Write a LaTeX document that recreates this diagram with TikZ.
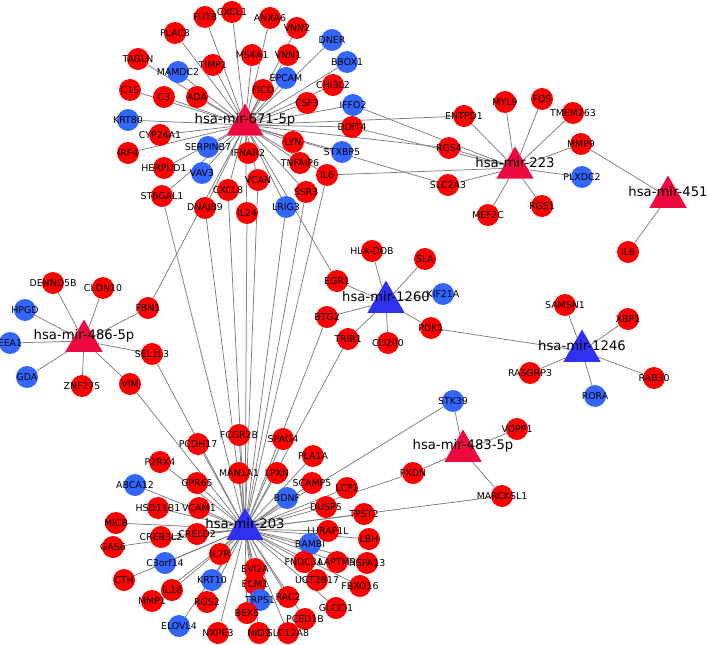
\documentclass[tikz,border=0pt]{standalone}
\usepackage{fontspec}
\setmainfont{DejaVu Sans}
\usepackage{tikz}
\usetikzlibrary{shapes.geometric, backgrounds}

\definecolor{upred}{RGB}{255,0,0}
\definecolor{downblue}{RGB}{51,102,255}
\definecolor{mirred}{RGB}{238,8,64}
\definecolor{mirblue}{RGB}{48,48,240}
\definecolor{linkgray}{RGB}{125,125,125}

\begin{document}
\begin{tikzpicture}[x=1pt, y=-1pt,
    genetext/.style={anchor=center, font=\fontsize{9.4}{11}\selectfont, text=black, inner sep=0pt},
    mirtext/.style={anchor=center, font=\fontsize{13.2}{15}\selectfont, text=black, inner sep=0pt, yshift=5pt},
    red gene/.style={circle, fill=upred, minimum size=22pt, inner sep=0pt, label={[genetext]center:#1}},
    blue gene/.style={circle, fill=downblue, minimum size=22pt, inner sep=0pt, label={[genetext]center:#1}},
    red mir/.style={regular polygon, regular polygon sides=3, fill=mirred, minimum size=43pt, inner sep=0pt, label={[mirtext]center:#1}},
    blue mir/.style={regular polygon, regular polygon sides=3, fill=mirblue, minimum size=43pt, inner sep=0pt, label={[mirtext]center:#1}}]
    \useasboundingbox (0,0) rectangle (708,644);

    % targets of hsa-mir-671-5p
    \node[red gene=PLAC8] (PLAC8) at (175,33) {};
    \node[red gene=FUT8] (FUT8) at (205,17) {};
    \node[red gene=CXCL1] (CXCL1) at (232,12) {};
    \node[red gene=ANXA6] (ANXA6) at (270,18) {};
    \node[red gene=VNN2] (VNN2) at (297,28) {};
    \node[red gene=MS4A1] (MS4A1) at (252,55) {};
    \node[red gene=TIMP1] (TIMP1) at (213,65) {};
    \node[red gene=VNN1] (VNN1) at (288,55) {};
    \node[blue gene=DNER] (DNER) at (332,40) {};
    \node[blue gene=BBOX1] (BBOX1) at (347,62) {};
    \node[blue gene=EPCAM] (EPCAM) at (286,78) {};
    \node[red gene=CHI3L2] (CHI3L2) at (333,85) {};
    \node[red gene=FICD] (FICD) at (263,90) {};
    \node[red gene=CSF3] (CSF3) at (307,103) {};
    \node[blue gene=IFFO2] (IFFO2) at (353,105) {};
    \node[red gene=DDIT4] (DDIT4) at (352,127) {};
    \node[red gene=TAGLN] (TAGLN) at (138,59) {};
    \node[blue gene=MAMDC2] (MAMDC2) at (178,72) {};
    \node[red gene=C1S] (C1S) at (130,90) {};
    \node[red gene=C3] (C3) at (164,97) {};
    \node[red gene=ADA] (ADA) at (197,97) {};
    \node[blue gene=KRT80] (KRT80) at (128,120) {};
    \node[red gene=CYP24A1] (CYP24A1) at (160,135) {};
    \node[red gene=IRF4] (IRF4) at (128,153) {};
    \node[red gene=HERPUD1] (HERPUD1) at (164,168) {};
    \node[blue gene=SERPINB7] (SERPINB7) at (208,147) {};
    \node[blue gene=VAV3] (VAV3) at (202,173) {};
    \node[red gene=ST6GAL1] (ST6GAL1) at (162,196) {};
    \node[red gene=DNAJB9] (DNAJB9) at (205,208) {};
    \node[red gene=IFNAR2] (IFNAR2) at (248,153) {};
    \node[red gene=CXCL8] (CXCL8) at (228,190) {};
    \node[red gene=VCAN] (VCAN) at (258,180) {};
    \node[red gene=IL24] (IL24) at (247,213) {};
    \node[red gene=LYN] (LYN) at (293,142) {};
    \node[red gene=TNFAIP6] (TNFAIP6) at (300,163) {};
    \node[red gene=SSR3] (SSR3) at (306,192) {};
    \node[blue gene=LRIG3] (LRIG3) at (286,207) {};
    \node[blue gene=STXBP5] (STXBP5) at (342,152) {};
    \node[red gene=IL6] (IL6a) at (327,175) {};

    % targets of hsa-mir-223 and hsa-mir-451
    \node[red gene=ENTPD1] (ENTPD1) at (464,116) {};
    \node[red gene=MYL9] (MYL9) at (505,102) {};
    \node[red gene=FOS] (FOS) at (542,99) {};
    \node[red gene=TMEM263] (TMEM263) at (573,113) {};
    \node[red gene=RGS4] (RGS4) at (449,148) {};
    \node[red gene=MMP9] (MMP9) at (581,144) {};
    \node[blue gene=PLXDC2] (PLXDC2) at (582,177) {};
    \node[red gene=SLC2A3] (SLC2A3) at (448,185) {};
    \node[red gene=MEF2C] (MEF2C) at (488,215) {};
    \node[red gene=RGS1] (RGS1) at (542,206) {};
    \node[red gene=IL6] (IL6b) at (628,252) {};

    % targets of hsa-mir-1260 and hsa-mir-1246
    \node[red gene=HLA-DOB] (HLA-DOB) at (372,251) {};
    \node[red gene=SLA] (SLA) at (425,259) {};
    \node[red gene=EGR1] (EGR1) at (337,281) {};
    \node[blue gene=KIF21A] (KIF21A) at (443,294) {};
    \node[red gene=BTG2] (BTG2) at (327,317) {};
    \node[red gene=PDK1] (PDK1) at (431,328) {};
    \node[red gene=TRIB1] (TRIB1) at (348,339) {};
    \node[red gene=CD200] (CD200) at (388,343) {};
    \node[red gene=SAMSN1] (SAMSN1) at (565,305) {};
    \node[red gene=XBP1] (XBP1) at (628,319) {};
    \node[red gene=RASGRP3] (RASGRP3) at (530,373) {};
    \node[red gene=RAB30] (RAB30) at (654,378) {};
    \node[blue gene=RORA] (RORA) at (595,396) {};

    % targets of hsa-mir-486-5p
    \node[red gene=DENND5B] (DENND5B) at (53,283) {};
    \node[red gene=CLDN10] (CLDN10) at (103,288) {};
    \node[blue gene=HPGD] (HPGD) at (25,310) {};
    \node[red gene=FBN1] (FBN1) at (148,308) {};
    \node[blue gene=EEA1] (EEA1) at (10,343) {};
    \node[red gene=SEL1L3] (SEL1L3) at (152,354) {};
    \node[blue gene=GDA] (GDA) at (27,377) {};
    \node[red gene=ZNF275] (ZNF275) at (82,386) {};
    \node[red gene=VIM] (VIM) at (130,384) {};

    % targets of hsa-mir-483-5p
    \node[blue gene=STK39] (STK39) at (453,401) {};
    \node[red gene=VOPP1] (VOPP1) at (517,429) {};
    \node[red gene=PXDN] (PXDN) at (413,473) {};
    \node[red gene=MARCKSL1] (MARCKSL1) at (502,496) {};

    % targets of hsa-mir-203
    \node[red gene=FCGR2B] (FCGR2B) at (239,435) {};
    \node[red gene=PCDH17] (PCDH17) at (198,444) {};
    \node[red gene=SPAG4] (SPAG4) at (283,439) {};
    \node[red gene=P2RX4] (P2RX4) at (160,462) {};
    \node[red gene=MAN1A1] (MAN1A1) at (239,473) {};
    \node[red gene=GPR65] (GPR65) at (197,483) {};
    \node[blue gene=ABCA12] (ABCA12) at (135,485) {};
    \node[red gene=HSD11B1] (HSD11B1) at (158,508) {};
    \node[red gene=VCAM1] (VCAM1) at (199,508) {};
    \node[red gene=MICB] (MICB) at (116,523) {};
    \node[red gene=PLA1A] (PLA1A) at (313,456) {};
    \node[red gene=LPXN] (LPXN) at (277,473) {};
    \node[red gene=SCAMP5] (SCAMP5) at (312,483) {};
    \node[red gene=LCP1] (LCP1) at (347,488) {};
    \node[blue gene=BDNF] (BDNF) at (287,498) {};
    \node[red gene=DUSP5] (DUSP5) at (326,507) {};
    \node[red gene=TPST2] (TPST2) at (364,514) {};
    \node[red gene=CREB3L2] (CREB3L2) at (161,537) {};
    \node[red gene=CRELD2] (CRELD2) at (197,534) {};
    \node[red gene=GAS6] (GAS6) at (113,547) {};
    \node[red gene=IL7R] (IL7R) at (220,554) {};
    \node[blue gene=C3orf14] (C3orf14) at (165,563) {};
    \node[red gene=EVI2A] (EVI2A) at (255,569) {};
    \node[red gene=CTH] (CTH) at (124,580) {};
    \node[blue gene=KRT10] (KRT10) at (212,580) {};
    \node[red gene=ECM1] (ECM1) at (255,584) {};
    \node[red gene=IL18] (IL18) at (172,590) {};
    \node[red gene=MMP1] (MMP1) at (152,601) {};
    \node[blue gene=TRPS1] (TRPS1) at (260,600) {};
    \node[red gene=RGS2] (RGS2) at (207,602) {};
    \node[red gene=BEX5] (BEX5) at (247,613) {};
    \node[blue gene=ELOVL4] (ELOVL4) at (179,626) {};
    \node[red gene=NXPE3] (NXPE3) at (218,633) {};
    \node[red gene=NID2] (NID2) at (259,633) {};
    \node[red gene=LURAP1L] (LURAP1L) at (328,531) {};
    \node[red gene=LBH] (LBH) at (369,539) {};
    \node[blue gene=BAMBI] (BAMBI) at (310,544) {};
    \node[red gene=FNDC3A] (FNDC3A) at (304,562) {};
    \node[red gene=LAPTM5] (LAPTM5) at (337,562) {};
    \node[red gene=HSPA13] (HSPA13) at (367,563) {};
    \node[red gene=UGT2B17] (UGT2B17) at (317,580) {};
    \node[red gene=FBXO16] (FBXO16) at (360,586) {};
    \node[red gene=RAC2] (RAC2) at (288,597) {};
    \node[red gene=GLCCI1] (GLCCI1) at (336,608) {};
    \node[red gene=PCED1B] (PCED1B) at (305,619) {};
    \node[red gene=SLC12A8] (SLC12A8) at (288,633) {};

    % the miRNAs
    \node[red mir=hsa-mir-671-5p] (m671) at (245,125) {};
    \node[red mir=hsa-mir-223] (m223) at (515,168) {};
    \node[red mir=hsa-mir-451] (m451) at (668,197) {};
    \node[blue mir=hsa-mir-1260] (m1260) at (386,302) {};
    \node[blue mir=hsa-mir-1246] (m1246) at (582,351) {};
    \node[red mir=hsa-mir-486-5p] (m486) at (84,341) {};
    \node[blue mir=hsa-mir-203] (m203) at (245,529) {};
    \node[red mir=hsa-mir-483-5p] (m483) at (463,451) {};

    \begin{pgfonlayer}{background}
    \begin{scope}[draw=linkgray, line width=0.75pt]
    % hsa-mir-671-5p
    \draw (m671) -- (PLAC8);
    \draw (m671) -- (FUT8);
    \draw (m671) -- (CXCL1);
    \draw (m671) -- (ANXA6);
    \draw (m671) -- (VNN2);
    \draw (m671) -- (MS4A1);
    \draw (m671) -- (TIMP1);
    \draw (m671) -- (VNN1);
    \draw (m671) -- (DNER);
    \draw (m671) -- (BBOX1);
    \draw (m671) -- (EPCAM);
    \draw (m671) -- (CHI3L2);
    \draw (m671) -- (FICD);
    \draw (m671) -- (CSF3);
    \draw (m671) -- (IFFO2);
    \draw (m671) -- (DDIT4);
    \draw (m671) -- (TAGLN);
    \draw (m671) -- (MAMDC2);
    \draw (m671) -- (C1S);
    \draw (m671) -- (C3);
    \draw (m671) -- (ADA);
    \draw (m671) -- (KRT80);
    \draw (m671) -- (CYP24A1);
    \draw (m671) -- (IRF4);
    \draw (m671) -- (HERPUD1);
    \draw (m671) -- (SERPINB7);
    \draw (m671) -- (VAV3);
    \draw (m671) -- (ST6GAL1);
    \draw (m671) -- (DNAJB9);
    \draw (m671) -- (IFNAR2);
    \draw (m671) -- (CXCL8);
    \draw (m671) -- (VCAN);
    \draw (m671) -- (IL24);
    \draw (m671) -- (LYN);
    \draw (m671) -- (TNFAIP6);
    \draw (m671) -- (SSR3);
    \draw (m671) -- (LRIG3);
    \draw (m671) -- (STXBP5);
    \draw (m671) -- (IL6a);
    \draw (m671) -- (ENTPD1);
    \draw (m671) -- (RGS4);
    \draw (m671) -- (SLC2A3);
    \draw (m671) -- (FBN1);
    \draw (m671) -- (EGR1);
    % hsa-mir-223 and hsa-mir-451
    \draw (m223) -- (ENTPD1);
    \draw (m223) -- (MYL9);
    \draw (m223) -- (FOS);
    \draw (m223) -- (TMEM263);
    \draw (m223) -- (MMP9);
    \draw (m223) -- (PLXDC2);
    \draw (m223) -- (RGS1);
    \draw (m223) -- (MEF2C);
    \draw (m223) -- (SLC2A3);
    \draw (m223) -- (RGS4);
    \draw (m223) -- (IFFO2);
    \draw (m223) -- (DDIT4);
    \draw (m223) -- (IL6a);
    \draw (m451) -- (MMP9);
    \draw (m451) -- (IL6b);
    % hsa-mir-1260 and hsa-mir-1246
    \draw (m1260) -- (HLA-DOB);
    \draw (m1260) -- (SLA);
    \draw (m1260) -- (EGR1);
    \draw (m1260) -- (KIF21A);
    \draw (m1260) -- (BTG2);
    \draw (m1260) -- (PDK1);
    \draw (m1260) -- (TRIB1);
    \draw (m1260) -- (CD200);
    \draw (m1246) -- (PDK1);
    \draw (m1246) -- (SAMSN1);
    \draw (m1246) -- (XBP1);
    \draw (m1246) -- (RASGRP3);
    \draw (m1246) -- (RAB30);
    \draw (m1246) -- (RORA);
    % hsa-mir-486-5p
    \draw (m486) -- (DENND5B);
    \draw (m486) -- (CLDN10);
    \draw (m486) -- (HPGD);
    \draw (m486) -- (FBN1);
    \draw (m486) -- (EEA1);
    \draw (m486) -- (SEL1L3);
    \draw (m486) -- (GDA);
    \draw (m486) -- (ZNF275);
    \draw (m486) -- (VIM);
    % hsa-mir-483-5p
    \draw (m483) -- (STK39);
    \draw (m483) -- (VOPP1);
    \draw (m483) -- (PXDN);
    \draw (m483) -- (MARCKSL1);
    % hsa-mir-203
    \draw (m203) -- (ST6GAL1);
    \draw (m203) -- (DNAJB9);
    \draw (m203) -- (CXCL8);
    \draw (m203) -- (IL24);
    \draw (m203) -- (VCAN);
    \draw (m203) -- (LRIG3);
    \draw (m203) -- (SSR3);
    \draw (m203) -- (IL6a);
    \draw (m203) -- (BTG2);
    \draw (m203) -- (TRIB1);
    \draw (m203) -- (SEL1L3);
    \draw (m203) -- (VIM);
    \draw (m203) -- (STK39);
    \draw (m203) -- (PXDN);
    \draw (m203) -- (MARCKSL1);
    \draw (m203) -- (FCGR2B);
    \draw (m203) -- (PCDH17);
    \draw (m203) -- (SPAG4);
    \draw (m203) -- (P2RX4);
    \draw (m203) -- (MAN1A1);
    \draw (m203) -- (GPR65);
    \draw (m203) -- (ABCA12);
    \draw (m203) -- (HSD11B1);
    \draw (m203) -- (VCAM1);
    \draw (m203) -- (MICB);
    \draw (m203) -- (PLA1A);
    \draw (m203) -- (LPXN);
    \draw (m203) -- (SCAMP5);
    \draw (m203) -- (LCP1);
    \draw (m203) -- (BDNF);
    \draw (m203) -- (DUSP5);
    \draw (m203) -- (TPST2);
    \draw (m203) -- (CREB3L2);
    \draw (m203) -- (CRELD2);
    \draw (m203) -- (GAS6);
    \draw (m203) -- (IL7R);
    \draw (m203) -- (C3orf14);
    \draw (m203) -- (EVI2A);
    \draw (m203) -- (CTH);
    \draw (m203) -- (KRT10);
    \draw (m203) -- (ECM1);
    \draw (m203) -- (IL18);
    \draw (m203) -- (MMP1);
    \draw (m203) -- (TRPS1);
    \draw (m203) -- (RGS2);
    \draw (m203) -- (BEX5);
    \draw (m203) -- (ELOVL4);
    \draw (m203) -- (NXPE3);
    \draw (m203) -- (NID2);
    \draw (m203) -- (LURAP1L);
    \draw (m203) -- (LBH);
    \draw (m203) -- (BAMBI);
    \draw (m203) -- (FNDC3A);
    \draw (m203) -- (LAPTM5);
    \draw (m203) -- (HSPA13);
    \draw (m203) -- (UGT2B17);
    \draw (m203) -- (FBXO16);
    \draw (m203) -- (RAC2);
    \draw (m203) -- (GLCCI1);
    \draw (m203) -- (PCED1B);
    \draw (m203) -- (SLC12A8);
    \end{scope}
    \end{pgfonlayer}
\end{tikzpicture}
\end{document}
